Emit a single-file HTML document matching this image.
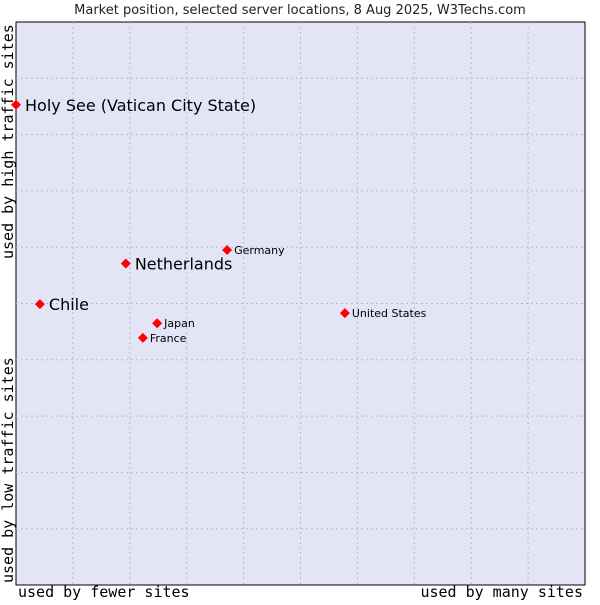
<!DOCTYPE html>
<html><head><meta charset="utf-8"><style>
body{margin:0;background:#fff;width:600px;height:600px;overflow:hidden}
svg text{font-family:"DejaVu Sans","Liberation Sans",sans-serif}
.mono{font-family:"DejaVu Sans Mono","Liberation Mono",monospace}
</style></head><body>
<svg id="chart" width="600" height="600">
<text x="300" y="14" text-anchor="middle" font-size="13" fill="#222">Market position, selected server locations, 8 Aug 2025, W3Techs.com</text>
<rect x="16" y="22" width="569" height="563" fill="#e3e5f7" stroke="#000" stroke-width="1"/>
<g id="grid"></g>
<g id="points"></g>
<text class="mono" x="18" y="597" font-size="15" fill="#000">used by fewer sites</text>
<text class="mono" x="583" y="597" font-size="15" fill="#000" text-anchor="end">used by many sites</text>
<text class="mono" transform="translate(13,583) rotate(-90)" font-size="15" fill="#000">used by low traffic sites</text>
<text class="mono" transform="translate(13,259) rotate(-90)" font-size="15" fill="#000">used by high traffic sites</text>
</svg>
<script>
const names=["Holy See (Vatican City State)","Netherlands","Chile","Germany","Japan","France","United States"];
const xVals=[0.0,0.193,0.042,0.371,0.248,0.223,0.578];
const yVals=[0.853,0.571,0.499,0.595,0.465,0.439,0.483];
const big=[true,true,true,false,false,false,false];
const L=16,R=585,T=22,B=585;
const sx=v=>L+v*(R-L), sy=v=>B-v*(B-T);
const NS="http://www.w3.org/2000/svg";
const grid=document.getElementById('grid');
for(let i=1;i<10;i++){
 const v=document.createElementNS(NS,'line');
 
 
 const x=sx(i/10);v.setAttribute('x1',x);v.setAttribute('x2',x);v.setAttribute('y1',T);v.setAttribute('y2',B);
 v.setAttribute('stroke','#bbb');v.setAttribute('stroke-dasharray','2,3');grid.appendChild(v);
 const h=document.createElementNS(NS,'line');
 
 
 const y=sy(i/10);h.setAttribute('x1',L);h.setAttribute('x2',R);h.setAttribute('y1',y);h.setAttribute('y2',y);
 h.setAttribute('stroke','#bbb');h.setAttribute('stroke-dasharray','2,3');grid.appendChild(h);
}
const pts=document.getElementById('points');
names.forEach((n,i)=>{
 const x=sx(xVals[i]),y=sy(yVals[i]);
 const c=document.createElementNS(NS,'polygon');
 
 
 c.setAttribute('points',`${x},${y-5} ${x+5},${y} ${x},${y+5} ${x-5},${y}`);
 c.setAttribute('fill','#f00');pts.appendChild(c);
 const t=document.createElementNS(NS,'text');
 
 
 t.setAttribute('x',x+(big[i]?9:7));t.setAttribute('y',y+(big[i]?6:4));
 t.setAttribute('font-size',big[i]?16:11);t.setAttribute('fill','#000');
 t.textContent=n;pts.appendChild(t);
});
</script>
</body></html>
